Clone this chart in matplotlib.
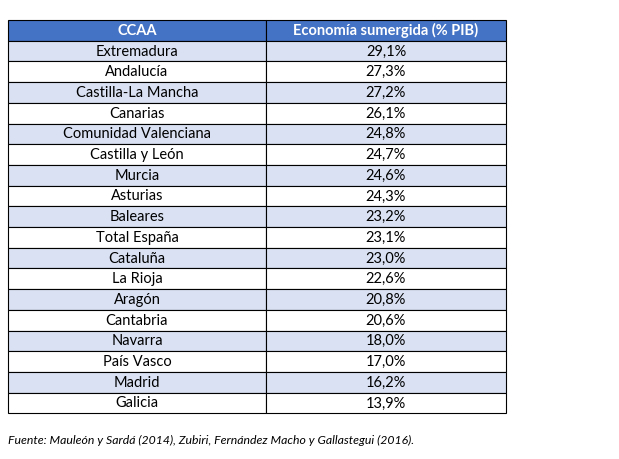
import matplotlib
matplotlib.use("Agg")
import matplotlib.pyplot as plt
from matplotlib.patches import Rectangle

# Table data
header = ["CCAA", "Economía sumergida (% PIB)"]
regions = ["Extremadura", "Andalucía", "Castilla-La Mancha", "Canarias",
           "Comunidad Valenciana", "Castilla y León", "Murcia", "Asturias",
           "Baleares", "Total España", "Cataluña", "La Rioja", "Aragón",
           "Cantabria", "Navarra", "País Vasco", "Madrid", "Galicia"]
values = [29.1, 27.3, 27.2, 26.1, 24.8, 24.7, 24.6, 24.3, 23.2, 23.1,
          23.0, 22.6, 20.8, 20.6, 18.0, 17.0, 16.2, 13.9]
source = "Fuente: Mauleón y Sardá (2014), Zubiri, Fernández Macho y Gallastegui (2016)."

W, H = 619, 459
left, mid, right = 8, 266, 506
top, row_h = 20, 20.7

plt.rcParams['font.family'] = ['Lato', 'DejaVu Sans']

fig = plt.figure(figsize=(W / 100, H / 100), dpi=100)
ax = fig.add_axes([0, 0, 1, 1])
ax.set_xlim(0, W)
ax.set_ylim(H, 0)
ax.axis('off')

rows = [header] + [[r, f"{v:.1f}%".replace('.', ',')] for r, v in zip(regions, values)]

for i, row in enumerate(rows):
    y0 = top + i * row_h
    if i == 0:
        fc, tc, fw = '#4472C4', 'white', 'bold'
    else:
        fc = '#D9E1F2' if i % 2 == 1 else 'white'
        tc, fw = 'black', 'normal'
    for x0, x1, txt in [(left, mid, row[0]), (mid, right, row[1])]:
        ax.add_patch(Rectangle((x0, y0), x1 - x0, row_h, facecolor=fc,
                               edgecolor='black', linewidth=0.8))
        ax.text((x0 + x1) / 2, y0 + row_h / 2 + 0.5, txt, ha='center',
                va='center', fontsize=10.5, color=tc, fontweight=fw)

ax.text(left, 440, source, ha='left', va='center', fontsize=8.8,
        style='italic', color='black')

fig.savefig("out.png", dpi=100)
